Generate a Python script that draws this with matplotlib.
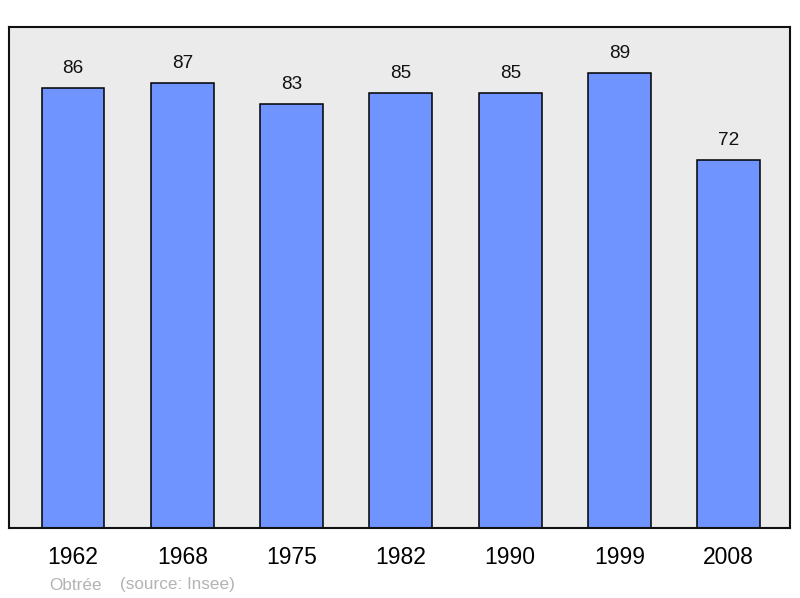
import matplotlib.pyplot as plt

plt.rcParams['font.family'] = ['Liberation Sans', 'DejaVu Sans']

years = ['1962', '1968', '1975', '1982', '1990', '1999', '2008']
population = [86, 87, 83, 85, 85, 89, 72]

fig = plt.figure(figsize=(8, 5.98), dpi=100)
ax = fig.add_axes([9/800, 70/598, 781/800, 501/598])
ax.set_facecolor('#ebebeb')

x = range(len(years))
ax.bar(x, population, width=0.576, color='#7094ff', edgecolor='black', linewidth=1.1, zorder=2)
for xi, v in zip(x, population):
    ax.annotate(str(v), (xi, v), xytext=(0, 10.8), textcoords='offset points',
                ha='center', va='baseline', fontsize=13.7, color='#111111')

ax.set_xlim(-0.5855, 6.56)
ax.set_ylim(0, 98)
ax.set_yticks([])
ax.set_xticks(list(x))
ax.set_xticklabels(years, fontsize=16.5)
ax.tick_params(axis='x', length=0, pad=13)
for s in ax.spines.values():
    s.set_linewidth(1.5)
    s.set_color('#111111')

fig.text(49/800, 1 - 585/598, 'Obtrée', color='#b3b3b3', fontsize=12.3, va='center')
fig.text(120/800, 1 - 585/598, '(source: Insee)', color='#b3b3b3', fontsize=12.3, va='center')

fig.savefig('out.png', dpi=100)
